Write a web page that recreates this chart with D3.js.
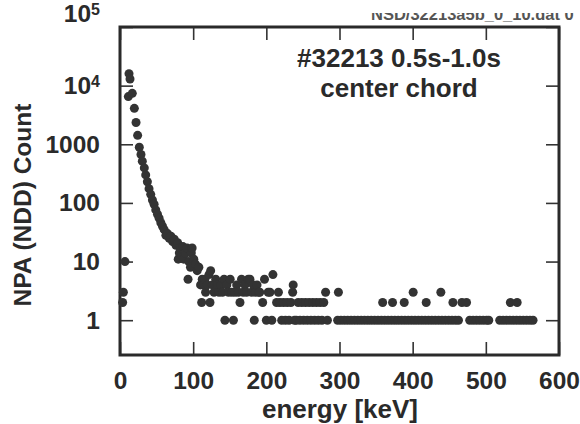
<!DOCTYPE html>
<html>
<head>
<meta charset="utf-8">
<script src="https://cdn.jsdelivr.net/npm/d3@7/dist/d3.min.js"></script>
<style>
    body { margin: 0; background: #fff; }
    text { font-family: "Liberation Sans", Arial, sans-serif; font-weight: bold; fill: #2a2a2a; }
</style>
</head>
<body>
<svg id="chart" width="580" height="424"></svg>
<script>
// 資料: NPA spectrum, energy [keV] vs count
// steep part
const headEnergy = [3.6, 4.6, 6.8, 11.4, 12.3, 13.7, 16.8, 19.6, 21.9, 24.1,
    26.4, 28.7, 30.5, 33.2, 35.1, 37.4, 39.7, 42.0, 44.3, 46.6,
    48.9, 51.2, 53.5, 55.8, 58.1, 60.4, 62.7, 65.0, 67.3, 69.6,
    71.9, 74.2, 76.5, 78.8]
const headCount = [2, 3, 10, 6500, 16000, 13000, 7400, 4100, 2350, 1420,
    890, 670, 515, 395, 300, 230, 175, 140, 112, 95,
    76, 64, 55, 46, 40, 35, 28, 30, 25, 27,
    22, 24, 19, 21]

// noisy band 80-240 keV
const bandEnergy = [79.6, 81.1, 82.5, 84.8, 86.0, 87.1, 89.4, 91.7, 93.0, 94.0,
    96.3, 97.5, 98.6, 100.9, 103.2, 105.5, 107.8, 110.1, 111.6, 112.4,
    114.7, 116.0, 117.0, 119.3, 121.6, 123.0, 123.9, 126.2, 128.5, 130.8,
    133.1, 135.4, 137.7, 140.0, 142.3, 143.4, 146.0, 148.3, 150.6, 152.9,
    155.0, 157.2, 159.5, 161.8, 164.0, 166.1, 168.4, 170.7, 173.0, 175.3,
    177.6, 179.9, 182.2, 183.5, 185.0, 187.3, 189.6, 191.0, 195.0, 197.5,
    200.0, 202.5, 205.0, 207.5, 209.0, 214.0, 216.5, 218.6, 221.0, 223.5,
    226.0, 228.5, 231.0, 233.5, 236.0, 236.7, 238.5]
const bandCount = [11, 14, 17, 13, 18, 11, 14, 17, 5, 10,
    8, 14, 17, 11, 9, 7, 8, 4, 2, 5,
    4, 5, 3, 4, 6, 2, 7, 4, 3, 5,
    4, 3, 4, 3, 5, 1, 4, 3, 5, 3,
    1, 3, 4, 3, 2, 5, 3, 4, 3, 5,
    5, 3, 4, 1, 3, 4, 3, 3, 2, 5,
    1, 3, 3, 1, 6, 2, 3, 2, 1, 2,
    1, 2, 1, 2, 3, 4, 1]

// tail
const tailEnergy = [241.0, 243.5, 246.0, 248.5, 251.0, 253.5, 256.0, 258.5, 261.0, 263.5,
    266.0, 268.5, 271.0, 273.5, 276.0, 278.5, 281.0, 283.5, 297.5, 298.5,
    302.0, 306.6, 311.2, 315.8, 320.4, 325.0, 329.6, 334.2, 338.8, 343.4,
    348.0, 352.6, 357.2, 359.0, 361.8, 366.4, 371.0, 372.5, 375.6, 380.2,
    384.8, 388.5, 389.4, 394.0, 398.6, 400.7, 403.2, 407.8, 412.4, 417.0,
    418.5, 421.6, 426.2, 430.8, 435.4, 438.5, 440.0, 444.6, 449.2, 453.8,
    455.0, 458.4, 462.6, 467.3, 473.6, 478.0, 482.6, 487.2, 491.8, 496.4,
    501.0, 504.0, 519.0, 523.6, 528.2, 532.8, 533.5, 537.4, 542.0, 542.8,
    546.6, 551.2, 555.8, 560.4, 564.5]
const tailCount = [1, 2, 1, 2, 1, 2, 1, 2, 1, 2,
    1, 2, 1, 2, 1, 2, 3, 1, 1, 3,
    1, 1, 1, 1, 1, 1, 1, 1, 1, 1,
    1, 1, 1, 2, 1, 1, 1, 2, 1, 1,
    1, 2, 1, 1, 1, 3, 1, 1, 1, 1,
    2, 1, 1, 1, 1, 3, 1, 1, 1, 1,
    2, 1, 1, 2, 2, 1, 1, 1, 1, 1,
    1, 1, 1, 1, 1, 1, 2, 1, 1, 2,
    1, 1, 1, 1, 1]

const xTicks = [0, 100, 200, 300, 400, 500, 600]
const yTicks = [1, 10, 100, 1000, 1e4, 1e5]
const yTickLabels = ['1', '10', '100', '1000', '10|4', '10|5']
const noteLines = ['#32213 0.5s-1.0s', 'center chord']
const fileTag = 'NSD/32213a5b_0_10.dat 0'
const xTitle = 'energy [keV]'
const yTitle = 'NPA (NDD) Count'

const energy = headEnergy.concat(bandEnergy, tailEnergy)
const counts = headCount.concat(bandCount, tailCount)
const points = energy.map((e, i) => ({ e: e, c: counts[i] }))

// 畫布
const svg = d3.select('#chart')
const plotLeft = 120, plotRight = 559, plotTop = 27, plotBottom = 355

const xScale = d3.scaleLinear([0, 600], [plotLeft, plotRight])
const yScale = d3.scaleLog([0.255, 1e5], [plotBottom, plotTop])

svg.append('rect').attr('width', 580).attr('height', 424).style('fill', '#fff')

// file tag, only lower part survives in the scan
svg.append('clipPath').attr('id', 'tagclip')
    .append('rect').attr('x', 0).attr('y', 13).attr('width', 580).attr('height', 20)
svg.append('text').attr('clip-path', 'url(#tagclip)')
    .attr('x', 371).attr('y', 20)
    .style('font-size', '16.5px').style('fill', '#555')
    .text(fileTag)

// axes
const tickLen = -13
const xAxisB = d3.axisBottom(xScale).tickValues(xTicks).tickSizeInner(tickLen).tickSizeOuter(0).tickPadding(17)
const xAxisT = d3.axisTop(xScale).tickValues(xTicks).tickSizeInner(tickLen).tickSizeOuter(0).tickFormat('')
const yAxisL = d3.axisLeft(yScale).tickValues(yTicks).tickSizeInner(tickLen).tickSizeOuter(0).tickPadding(20)
    .tickFormat((d, i) => yTickLabels[i])
const yAxisR = d3.axisRight(yScale).tickValues(yTicks).tickSizeInner(tickLen).tickSizeOuter(0).tickFormat('')

const gxb = svg.append('g').attr('transform', `translate(0,${plotBottom})`).call(xAxisB)
const gxt = svg.append('g').attr('transform', `translate(0,${plotTop})`).call(xAxisT)
const gyl = svg.append('g').attr('transform', `translate(${plotLeft},0)`).call(yAxisL)
const gyr = svg.append('g').attr('transform', `translate(${plotRight},0)`).call(yAxisR)

svg.selectAll('.domain').remove()
svg.selectAll('.tick line').style('stroke', '#333').style('stroke-width', 1.6)
svg.selectAll('.tick text').style('font-size', '24.5px').style('fill', '#2a2a2a')
svg.selectAll('g').attr('font-family', null)

// 10^n labels with superscript
gyl.selectAll('.tick text').each(function (d, i) {
    const lab = yTickLabels[i]
    if (lab.indexOf('|') < 0) return
    const parts = lab.split('|')
    const t = d3.select(this).text('')
    t.append('tspan').text(parts[0])
    t.append('tspan').attr('dy', '-0.45em').style('font-size', '16px').text(parts[1])
    if (d === 1e5) t.attr('y', -13)
})

// frame
svg.append('rect')
    .attr('x', plotLeft).attr('y', plotTop)
    .attr('width', plotRight - plotLeft).attr('height', plotBottom - plotTop)
    .style('fill', 'none').style('stroke', '#2a2a2a').style('stroke-width', 3)

// dots
svg.append('g').selectAll('circle').data(points).join('circle')
    .attr('cx', d => xScale(d.e))
    .attr('cy', d => yScale(d.c))
    .attr('r', 4.5)
    .style('fill', '#333')

// note
svg.append('g').selectAll('text').data(noteLines).join('text')
    .attr('x', 399).attr('y', (d, i) => 67 + i * 30)
    .attr('text-anchor', 'middle')
    .style('font-size', '26px')
    .text(d => d)

// titles
svg.append('text').attr('x', 340).attr('y', 418).attr('text-anchor', 'middle')
    .style('font-size', '26px').text(xTitle)
svg.append('text').attr('transform', 'translate(31,205) rotate(-90)').attr('text-anchor', 'middle')
    .style('font-size', '24.5px').text(yTitle)
</script>
</body>
</html>
